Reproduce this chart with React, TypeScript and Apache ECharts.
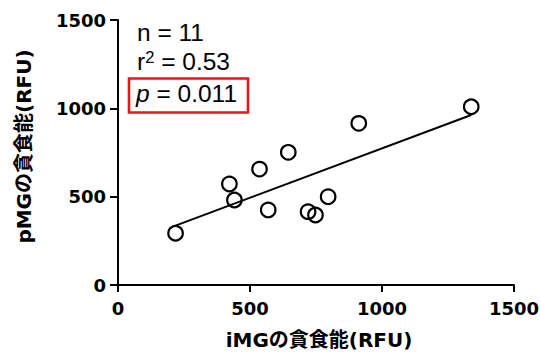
import React, { useEffect, useRef } from "react";
import * as echarts from "echarts";

const xTicks = [0, 500, 1000, 1500];
const yTicks = [0, 500, 1000, 1500];
const imgValues = [218, 422, 441, 536, 645, 569, 720, 748, 796, 912, 1338];
const pmgValues = [293, 572, 481, 656, 751, 425, 415, 396, 500, 915, 1009];
const fitX = [218, 1338];
const fitY = [336, 962];
const xTitle = "iMGの貪食能(RFU)";
const yTitle = "pMGの貪食能(RFU)";
const statN = "n = 11";
const statR2 = "0.53";
const statP = "0.011";

export default function App() {
  const ref = useRef<HTMLDivElement>(null);
  useEffect(() => {
    if (!ref.current) return;
    const chart = echarts.init(ref.current, undefined, { renderer: "svg" });
    const tickFont = {
      color: "#000",
      fontFamily: "DejaVu Sans",
      fontWeight: "bold" as const,
      fontSize: 18,
      formatter: (v: number) => String(v),
    };
    const statFont = "Liberation Sans";
    const statSize = 24.5;
    chart.setOption({
      animation: false,
      backgroundColor: "#fff",
      grid: { left: 118, right: 26, top: 20, bottom: 69, containLabel: false, outerBoundsMode: "none" },
      xAxis: {
        type: "value",
        min: xTicks[0],
        max: xTicks[xTicks.length - 1],
        interval: xTicks[1] - xTicks[0],
        axisLine: { show: true, onZero: false, lineStyle: { color: "#000", width: 2 } },
        axisTick: { show: true, inside: false, length: 7, lineStyle: { color: "#000", width: 2 } },
        axisLabel: { ...tickFont, margin: 14 },
        splitLine: { show: false },
      },
      yAxis: {
        type: "value",
        min: yTicks[0],
        max: yTicks[yTicks.length - 1],
        interval: yTicks[1] - yTicks[0],
        axisLine: { show: true, onZero: false, lineStyle: { color: "#000", width: 2 } },
        axisTick: { show: true, inside: false, length: 8, lineStyle: { color: "#000", width: 2 } },
        axisLabel: { ...tickFont, margin: 12 },
        splitLine: { show: false },
      },
      series: [
        {
          type: "line",
          data: fitX.map((x, i) => [x, fitY[i]]),
          symbol: "none",
          lineStyle: { color: "#000", width: 2 },
          z: 1,
        },
        {
          type: "scatter",
          data: imgValues.map((x, i) => [x, pmgValues[i]]),
          symbol: "circle",
          symbolSize: 14.5,
          itemStyle: { color: "rgba(0,0,0,0)", borderColor: "#000", borderWidth: 2.2, opacity: 1 },
          z: 2,
        },
      ],
      graphic: [
        {
          type: "text",
          x: 319,
          y: 340,
          style: {
            text: xTitle,
            fontFamily: '"DejaVu Sans", "Noto Sans CJK JP"',
            fontWeight: "bold",
            fontSize: 20,
            fill: "#000",
            align: "center",
            verticalAlign: "middle",
          },
        },
        {
          type: "text",
          x: 24,
          y: 146.5,
          rotation: Math.PI / 2,
          style: {
            text: yTitle,
            fontFamily: '"DejaVu Sans", "Noto Sans CJK JP"',
            fontWeight: "bold",
            fontSize: 20,
            fill: "#000",
            align: "center",
            verticalAlign: "middle",
          },
        },
        {
          type: "text",
          x: 137,
          y: 32,
          style: {
            text: statN,
            fontFamily: statFont,
            fontSize: statSize,
            fill: "#000",
            align: "left",
            verticalAlign: "middle",
          },
        },
        {
          type: "text",
          x: 137,
          y: 61,
          style: {
            text: "{a|r}{s|2}{a| = " + statR2 + "}",
            align: "left",
            verticalAlign: "middle",
            rich: {
              a: { fontFamily: statFont, fontSize: statSize, fill: "#000", color: "#000" },
              s: { fontFamily: statFont, fontSize: 16.5, fill: "#000", color: "#000", verticalAlign: "top" },
            },
          },
        },
        {
          type: "text",
          x: 136,
          y: 93,
          style: {
            text: "{i|p}{a| = " + statP + "}",
            align: "left",
            verticalAlign: "middle",
            rich: {
              i: { fontFamily: statFont, fontSize: statSize, fontStyle: "italic", fill: "#000", color: "#000" },
              a: { fontFamily: statFont, fontSize: statSize, fill: "#000", color: "#000" },
            },
          },
        },
        {
          type: "rect",
          shape: { x: 129, y: 78.5, width: 119, height: 34 },
          style: { fill: "none", stroke: "#e8151b", lineWidth: 2.6 },
        },
      ],
    });
    return () => chart.dispose();
  }, []);
  return (
    <div
      ref={ref}
      style={{ position: "fixed", left: 0, top: 0, width: 540, height: 354, background: "#fff" }}
    />
  );
}
